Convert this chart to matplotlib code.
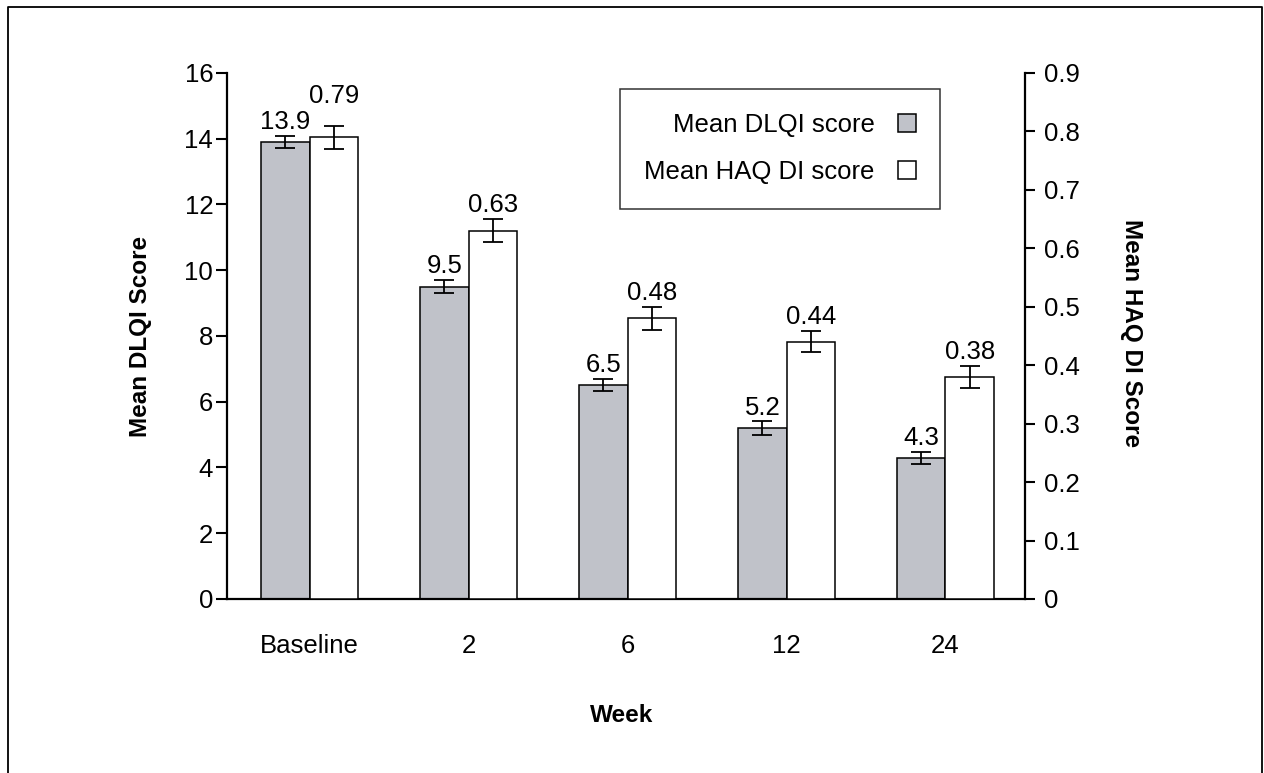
import matplotlib.pyplot as plt
import numpy as np
from matplotlib.lines import Line2D

# values
weeks = ['Baseline', '2', '6', '12', '24']
dlqi_mean = [13.9, 9.5, 6.5, 5.2, 4.3]
dlqi_err = [0.18, 0.2, 0.18, 0.2, 0.18]
haq_mean = [0.79, 0.63, 0.48, 0.44, 0.38]
haq_err = [0.02, 0.02, 0.02, 0.018, 0.019]

plt.rcParams['font.family'] = ['Liberation Sans', 'DejaVu Sans']
fs = 18.5
fs_lab = 17.5

fig = plt.figure(figsize=(12.64, 7.73), dpi=100)
ax = fig.add_axes([0.1796, 0.2251, 0.6313, 0.6805])
ax2 = ax.twinx()

x = np.arange(len(weeks))
w = 0.305
gray = '#c0c2c9'

b1 = ax.bar(x - w / 2, dlqi_mean, w, color=gray, edgecolor='black', linewidth=1.1,
            label='Mean DLQI score', zorder=2)
ax.errorbar(x - w / 2, dlqi_mean, yerr=dlqi_err, fmt='none', ecolor='black',
            elinewidth=1.3, capsize=7, capthick=1.3, zorder=3)
b2 = ax2.bar(x + w / 2, haq_mean, w, color='white', edgecolor='black', linewidth=1.1,
             label='Mean HAQ DI score', zorder=2)
ax2.errorbar(x + w / 2, haq_mean, yerr=haq_err, fmt='none', ecolor='black',
             elinewidth=1.3, capsize=7, capthick=1.3, zorder=3)

# value labels
for xi, m, e in zip(x, dlqi_mean, dlqi_err):
    ax.annotate(f'{m:.1f}', (xi - w / 2, m + e), xytext=(0, 5), textcoords='offset points',
                ha='center', va='baseline', fontsize=fs)
for i, (xi, m, e) in enumerate(zip(x, haq_mean, haq_err)):
    dy = 16 if i == 0 else 5
    ax2.annotate(f'{m:.2f}', (xi + w / 2, m + e), xytext=(0, dy), textcoords='offset points',
                 ha='center', va='baseline', fontsize=fs)

ax.set_xlim(-0.52, 4.5)
ax.set_ylim(0, 16)
ax.set_yticks(np.arange(0, 17, 2))
ax2.set_ylim(0, 0.9)
ax2.set_yticks(np.arange(0, 0.91, 0.1))
ax2.set_yticklabels(['0'] + [f'{v:.1f}' for v in np.arange(0.1, 0.91, 0.1)])

ax.set_xticks(x)
ax.set_xticklabels(weeks)
ax.tick_params(axis='x', length=0, pad=25, labelsize=fs)
ax.tick_params(axis='y', length=8, width=1.5, pad=2, labelsize=fs)
ax2.tick_params(axis='y', length=7, width=1.5, pad=7, labelsize=fs)

for a in (ax, ax2):
    a.spines['top'].set_visible(False)
    for s in a.spines.values():
        s.set_linewidth(1.6)
ax.spines['right'].set_visible(False)
ax2.spines['left'].set_visible(False)
ax2.spines['bottom'].set_visible(False)

fig.text(140 / 1264, 1 - 336 / 773, 'Mean DLQI Score', rotation=90, ha='center', va='center',
         fontsize=fs_lab, fontweight='bold')
fig.text(1132 / 1264, 1 - 333 / 773, 'Mean HAQ DI Score', rotation=270, ha='center', va='center',
         fontsize=fs_lab, fontweight='bold')
fig.text(622 / 1264, 1 - 716 / 773, 'Week', ha='center', va='center',
         fontsize=fs_lab, fontweight='bold')

leg = ax2.legend(handles=[b1, b2], loc='upper right', bbox_to_anchor=(0.894, 0.97),
                 markerfirst=False, fontsize=fs, frameon=True, fancybox=False,
                 handlelength=0.7, handleheight=0.7, handletextpad=0.9,
                 borderpad=0.95, labelspacing=0.9, borderaxespad=0)
leg.get_frame().set_edgecolor('black')
leg.get_frame().set_linewidth(1.1)

# outer frame of the figure (bottom edge cut off)
fig.add_artist(Line2D([8 / 1264, 8 / 1264, 1262 / 1264, 1262 / 1264],
                      [0, 1 - 7 / 773, 1 - 7 / 773, 0], color='black', linewidth=1.3))

fig.savefig('out.png', dpi=100)
